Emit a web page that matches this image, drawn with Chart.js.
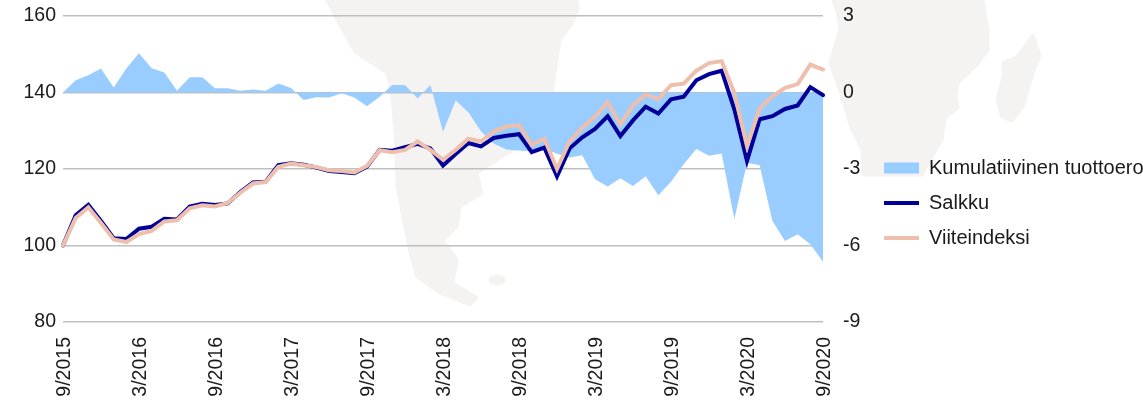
<!DOCTYPE html>
<html>
<head>
<meta charset="utf-8">
<title>Salkku ja viiteindeksi</title>
<script src="https://cdn.jsdelivr.net/npm/chart.js@4"></script>
<style>
  html, body { margin: 0; padding: 0; background: #fff; }
  #wrap { position: relative; width: 1143px; height: 400px; overflow: hidden; }
  #map, #chart { position: absolute; left: 0; top: 0; }
</style>
</head>
<body>
<div id="wrap">
  <!-- taustakartta -->
  <svg id="map" width="1143" height="400">
    <g fill="#f5f3f2" stroke="#f5f3f2" stroke-width="3" stroke-linejoin="round">
      <polygon points="327,0 337,20 355,52 387,73 392,97 395,133 397,187 403,217 410,253 417,277 440,293 470,305 477,298 453,283 457,260 443,240 457,227 460,207 482,193 477,173 497,160 530,140 550,115 552,93 555,73 560,40 573,22 578,10 577,0"/>
      <ellipse cx="497" cy="280" rx="7" ry="4"/>
      <polygon points="983,0 985,13 988,30 988,50 977,65 958,83 956,97 958,108 945,118 942,140 930,160 922,175 863,175 862,150 850,125 842,97 830,63 835,45 840,30 838,15 833,0"/>
      <polygon points="1033,35 1040,55 1033,73 1023,107 1012,121 1002,117 997,100 1003,77 1003,63 1017,57"/>
    </g>
  </svg>
  <canvas id="chart" width="1143" height="400"></canvas>
</div>
<script>
// kuukausittaiset havainnot 9/2015 - 9/2020
var months = [
  '9/2015','10/2015','11/2015','12/2015','1/2016','2/2016','3/2016','4/2016','5/2016','6/2016','7/2016','8/2016',
  '9/2016','10/2016','11/2016','12/2016','1/2017','2/2017','3/2017','4/2017','5/2017','6/2017','7/2017','8/2017',
  '9/2017','10/2017','11/2017','12/2017','1/2018','2/2018','3/2018','4/2018','5/2018','6/2018','7/2018','8/2018',
  '9/2018','10/2018','11/2018','12/2018','1/2019','2/2019','3/2019','4/2019','5/2019','6/2019','7/2019','8/2019',
  '9/2019','10/2019','11/2019','12/2019','1/2020','2/2020','3/2020','4/2020','5/2020','6/2020','7/2020','8/2020',
  '9/2020'
];
var salkku = [
  100, 107.9, 110.6, 106.4, 101.9, 101.7, 104.4, 104.9, 107, 106.8, 110.2, 110.9,
  110.6, 111, 114, 116.5, 116.7, 121, 121.5, 121.1, 120.4, 119.5, 119.2, 118.9,
  120.6, 125, 124.8, 125.7, 126.6, 125.4, 120.9, 123.9, 126.8, 125.9, 128.1, 128.7,
  129.1, 124.4, 125.6, 118.1, 125.4, 128.3, 130.5, 133.8, 128.6, 132.7, 136.3, 134.5,
  138.2, 138.9, 143.2, 144.8, 145.7, 135.6, 122.1, 133, 133.8, 135.7, 136.6, 141.4,
  139.3
];
var viiteindeksi = [
  100, 107.2, 110, 105.9, 101.6, 100.9, 103, 103.8, 106.3, 106.6, 109.7, 110.5,
  110.2, 111.1, 113.8, 116.2, 116.6, 120.6, 121.4, 121, 120.5, 119.7, 119.5, 119.1,
  120.8, 124.9, 124.4, 125, 127.2, 125, 122.4, 125, 127.9, 127.2, 129.8, 131.1,
  131.5, 126.3, 127.9, 120, 127.3, 130.8, 133.7, 137.5, 131.7, 136.7, 139.5, 138.3,
  141.9, 142.3, 145.7, 147.7, 148.2, 139.9, 126, 135.8, 139, 141.2, 142.2, 147.3,
  146
];
var tuottoero = [
  0, 0.48, 0.68, 0.94, 0.2, 0.94, 1.54, 0.95, 0.78, 0.07, 0.6, 0.6,
  0.17, 0.17, 0.07, 0.12, 0.07, 0.35, 0.18, -0.29, -0.19, -0.2, -0.03, -0.2,
  -0.54, -0.17, 0.29, 0.29, -0.24, 0.29, -1.54, -0.31, -0.77, -1.52, -2, -2.24,
  -2.27, -2.3, -2.2, -2.4, -2.55, -2.46, -3.4, -3.69, -3.36, -3.67, -3.28, -4.03,
  -3.5, -2.81, -2.22, -2.48, -2.39, -4.97, -2.75, -2.85, -5.03, -5.82, -5.56, -5.95,
  -6.64
];

var fontti = { family: '"Liberation Sans", Arial, sans-serif', size: 19.5 };
var tekstiVari = '#1a1a1a';

// selite hieman ylemmas
var selitePlugin = {
  id: 'selitePlugin',
  afterLayout: function(chart) { chart.legend.top -= 10; }
};

var datos = {
  type: 'line',
  plugins: [selitePlugin],
  data: {
    labels: months,
    datasets: [{
      label: 'Kumulatiivinen tuottoero',
      data: tuottoero,
      yAxisID: 'y1',
      fill: 'origin',
      backgroundColor: '#99ccff',
      borderColor: '#99ccff',
      borderWidth: 0,
      pointStyle: 'rect',
      pointRadius: 0,
      tension: 0,
      order: 3
    }, {
      label: 'Salkku',
      data: salkku,
      yAxisID: 'y',
      fill: false,
      backgroundColor: '#000099',
      borderColor: '#000099',
      borderWidth: 4,
      borderCapStyle: 'round',
      pointStyle: 'line',
      pointRadius: 0,
      tension: 0,
      order: 2
    }, {
      label: 'Viiteindeksi',
      data: viiteindeksi,
      yAxisID: 'y',
      fill: false,
      backgroundColor: '#edbfac',
      borderColor: '#edbfac',
      borderWidth: 4,
      borderCapStyle: 'round',
      pointStyle: 'line',
      pointRadius: 0,
      tension: 0,
      order: 1
    }]
  },
  options: {
    responsive: false,
    animation: false,
    layout: { autoPadding: false, padding: { top: 16, left: 0, right: 0, bottom: 0 } },
    plugins: {
      title: { display: false },
      tooltip: { enabled: false },
      legend: {
        display: true,
        position: 'right',
        maxWidth: 274,
        labels: {
          usePointStyle: true,
          pointStyleWidth: 35,
          boxHeight: 11,
          padding: 15,
          color: tekstiVari,
          font: { family: fontti.family, size: 20 },
          sort: function(a, b) { return a.datasetIndex - b.datasetIndex; }
        }
      }
    },
    scales: {
      x: {
        type: 'category',
        offset: false,
        afterFit: function(scale) { scale.height = 78; },
        grid: { display: false },
        border: { display: false },
        ticks: {
          autoSkip: false,
          minRotation: 90,
          maxRotation: 90,
          padding: 7,
          labelOffset: 1.5,
          color: tekstiVari,
          font: fontti,
          callback: function(value, index) { return index % 6 === 0 ? months[index] : ''; }
        }
      },
      y: {
        position: 'left',
        min: 80,
        max: 160,
        afterFit: function(scale) { scale.width = 63; scale.paddingTop = 0; scale.paddingBottom = 0; },
        grid: { color: '#bfbfbf', lineWidth: 1.5, drawTicks: false },
        border: { display: false },
        ticks: { stepSize: 20, padding: 7, color: tekstiVari, font: fontti }
      },
      y1: {
        position: 'right',
        min: -9,
        max: 3,
        afterFit: function(scale) { scale.width = 46; scale.paddingTop = 0; scale.paddingBottom = 0; },
        grid: { display: false },
        border: { display: false },
        ticks: { stepSize: 3, padding: 12, color: tekstiVari, font: fontti }
      }
    }
  }
};
var canvas = document.getElementById('chart').getContext('2d');
window.grafiikka = new Chart(canvas, datos);
</script>
</body>
</html>
